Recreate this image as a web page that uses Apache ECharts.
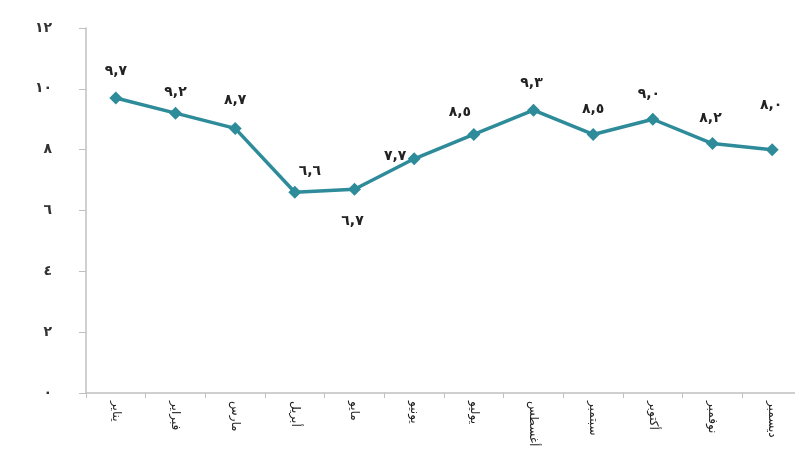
<!DOCTYPE html>
<html><head><meta charset="utf-8">
<script src="https://cdn.jsdelivr.net/npm/echarts@6/dist/echarts.min.js"></script>
<style>html,body{margin:0;padding:0;background:#fff}#c{width:795px;height:470px}</style>
</head><body><div id="c"></div>
<script>
const months = ['يناير','فبراير','مارس','أبريل','مايو','يونيو','يوليو','أغسطس','سبتمبر','أكتوبر','نوفمبر','ديسمبر'];
const values = [9.7, 9.2, 8.7, 6.6, 6.7, 7.7, 8.5, 9.3, 8.5, 9.0, 8.2, 8.0];
const yTicks = [0, 2, 4, 6, 8, 10, 12];

// label placement styling (not data)
const labelStyles = [
  {position:'top', offset:[0,0]},
  {position:'top', offset:[0,6]},
  {position:'top', offset:[0,-2]},
  {position:'top', offset:[15,6]},
  {position:'bottom', offset:[-2,6]},
  {position:'top', offset:[-19,24]},
  {position:'top', offset:[-14,4]},
  {position:'top', offset:[-2,0]},
  {position:'top', offset:[0,1]},
  {position:'top', offset:[-4,2]},
  {position:'top', offset:[-2,1]},
  {position:'top', offset:[-1,-18]}
];

const AR = '٠١٢٣٤٥٦٧٨٩';
function toAr(s){ return String(s).replace(/[0-9]/g, d => AR[+d]); }

const font = 'DejaVu Sans';
const chart = echarts.init(document.getElementById('c'));
chart.setOption({
  animation: false,
  backgroundColor: '#ffffff',
  grid: {left: 86, width: 716, top: 28, bottom: 77, containLabel: false, outerBoundsMode: 'none'},
  xAxis: {
    type: 'category',
    data: months,
    boundaryGap: true,
    axisLine: {lineStyle: {color: '#c0c0c0', width: 1.5}},
    axisTick: {show: true, length: 5, lineStyle: {color: '#c0c0c0'}},
    axisLabel: {rotate: -90, margin: 8, color: '#222', fontSize: 12, fontFamily: font, interval: 0}
  },
  yAxis: {
    type: 'value',
    min: yTicks[0], max: yTicks[yTicks.length-1], interval: 2,
    splitLine: {show: false},
    axisLine: {show: true, lineStyle: {color: '#c0c0c0', width: 1.5}},
    axisTick: {show: true, length: 7, lineStyle: {color: '#c0c0c0'}},
    axisLabel: {margin: 34, color: '#333', fontSize: 14, fontWeight: 'bold', fontFamily: font,
      formatter: v => toAr(v)}
  },
  series: [{
    type: 'line',
    data: values.map((v, i) => ({
      value: v,
      label: {position: labelStyles[i].position, offset: labelStyles[i].offset}
    })),
    symbol: 'diamond',
    symbolSize: 13,
    lineStyle: {color: '#2e8b9a', width: 3.5},
    itemStyle: {color: '#2e8b9a'},
    label: {
      show: true, distance: 13, color: '#222', fontSize: 14, fontWeight: 'bold', fontFamily: font,
      formatter: p => toAr(p.value.toFixed(1)).replace('.', ',')
    }
  }]
});
</script></body></html>
